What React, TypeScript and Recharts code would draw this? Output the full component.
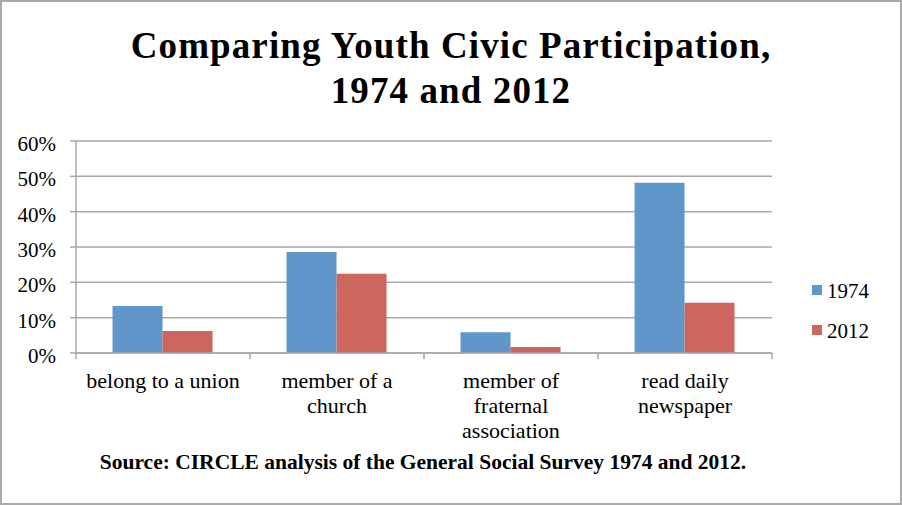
import React from 'react';
import { BarChart, Bar, XAxis, YAxis, CartesianGrid } from 'recharts';

const CATEGORIES = ['belong to a union', 'member of a church', 'member of fraternal association', 'read daily newspaper'];
const CATEGORY_LINES = [['belong to a union'], ['member of a', 'church'], ['member of', 'fraternal', 'association'], ['read daily', 'newspaper']];
const SERIES_1974 = [13.3, 28.6, 5.9, 48.2];
const SERIES_2012 = [6.2, 22.4, 1.7, 14.2];
const Y_TICKS = [0, 10, 20, 30, 40, 50, 60];
const SERIES = [
  { key: 'y1974', name: '1974', color: '#6096C9' },
  { key: 'y2012', name: '2012', color: '#CC665F' },
];

const W = 902;
const H = 505;
const GRID = '#A9A9A9';
const SERIF = '"Liberation Serif", "Times New Roman", serif';
const PLOT_LEFT = 76;
const PLOT_RIGHT = 772;
const BAND = (PLOT_RIGHT - PLOT_LEFT) / CATEGORIES.length;

const data = CATEGORIES.map((c, i) => ({ category: c, y1974: SERIES_1974[i], y2012: SERIES_2012[i] }));

const CategoryTick = ({ x, y, index }: any) => {
  const lines = CATEGORY_LINES[index] || [];
  const left = x - BAND / 2;
  return (
    <g>
      <line x1={left} y1={y} x2={left} y2={y + 6} stroke={GRID} strokeWidth={1.5} />
      {index === CATEGORIES.length - 1 && (
        <line x1={left + BAND} y1={y} x2={left + BAND} y2={y + 6} stroke={GRID} strokeWidth={1.5} />
      )}
      <text x={x} y={y + 35} textAnchor="middle" fontFamily={SERIF} fontSize={22} fill="#000">
        {lines.map((l: string, i: number) => (
          <tspan key={i} x={x} dy={i === 0 ? 0 : 25}>{l}</tspan>
        ))}
      </text>
    </g>
  );
};

const PercentTick = ({ x, y, payload }: any) => (
  <text x={x} y={y + 10} textAnchor="end" fontFamily={SERIF} fontSize={21} fill="#000">
    {`${payload.value}%`}
  </text>
);

export default function App() {
  return (
    <div style={{ position: 'absolute', left: 0, top: 0, width: W, height: H, background: '#fff', fontFamily: SERIF }}>
      <div style={{ position: 'absolute', left: 0, top: 23, width: W, textAlign: 'center', fontWeight: 'bold', fontSize: 37, lineHeight: '45px', letterSpacing: 1.1, color: '#000' }}>
        Comparing Youth Civic Participation,
        <br />
        1974 and 2012
      </div>
      <BarChart
        width={W}
        height={H}
        data={data}
        margin={{ top: 141, right: W - PLOT_RIGHT, bottom: 52, left: 0 }}
        barCategoryGap="21%"
        barGap={0}
      >
        <CartesianGrid vertical={false} stroke={GRID} strokeWidth={1.5} />
        <XAxis
          dataKey="category"
          height={100}
          interval={0}
          tickSize={0}
          tickMargin={0}
          tickLine={false}
          axisLine={{ stroke: GRID, strokeWidth: 1.5 }}
          tick={<CategoryTick />}
        />
        <YAxis
          width={PLOT_LEFT}
          domain={[0, 60]}
          ticks={Y_TICKS}
          interval={0}
          tickSize={6}
          tickMargin={14}
          tickLine={{ stroke: GRID, strokeWidth: 1.5 }}
          axisLine={{ stroke: GRID, strokeWidth: 1.5 }}
          tick={<PercentTick />}
        />
        {SERIES.map((s) => (
          <Bar key={s.key} dataKey={s.key} name={s.name} fill={s.color} isAnimationActive={false} />
        ))}
      </BarChart>
      {SERIES.map((s, i) => (
        <div key={s.key} style={{ position: 'absolute', left: 812, top: 279 + i * 40, height: 24, lineHeight: '24px', fontSize: 21, color: '#000', whiteSpace: 'nowrap' }}>
          <span style={{ display: 'inline-block', width: 10, height: 10, background: s.color, marginRight: 5, verticalAlign: 'baseline', position: 'relative', top: -3 }} />
          {s.name}
        </div>
      ))}
      <div style={{ position: 'absolute', left: 0, top: 449, width: 846, textAlign: 'center', fontWeight: 'bold', fontSize: 21.5, lineHeight: '26px', color: '#000' }}>
        Source: CIRCLE analysis of the General Social Survey 1974 and 2012.
      </div>
      <div style={{ position: 'absolute', left: 0, top: 0, width: W, height: H, boxSizing: 'border-box', border: '2px solid #AAAAAA', pointerEvents: 'none' }} />
    </div>
  );
}
